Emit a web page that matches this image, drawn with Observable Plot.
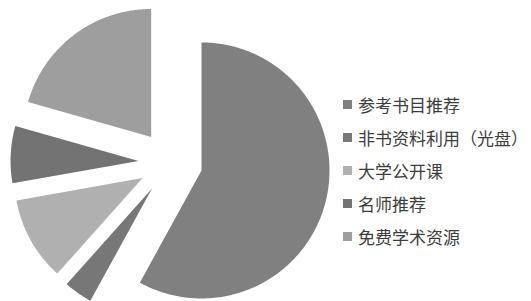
<!DOCTYPE html>
<html>
<head>
<meta charset="utf-8">
<script src="https://cdn.jsdelivr.net/npm/d3@7"></script>
<script src="https://cdn.jsdelivr.net/npm/@observablehq/plot@0.6"></script>
<style>
  html, body { margin: 0; padding: 0; background: #fff; }
  #wrap { position: relative; width: 531px; height: 301px; overflow: hidden; }
  #legend { position: absolute; left: 343px; top: 88px; font-family: "Noto Sans CJK SC", sans-serif; font-size: 17px; color: #3c3c3c; }
  .row { height: 33px; display: flex; align-items: center; white-space: nowrap; line-height: 1; }
  .sw { width: 9px; height: 9px; margin-right: 6px; flex: none; }
</style>
</head>
<body>
<div id="wrap"></div>
<script>
// Data
const categories = ["参考书目推荐", "非书资料利用（光盘）", "大学公开课", "名师推荐", "免费学术资源"];
const shares = [58.0, 3.6, 10.6, 7.2, 20.6];
const colors = ["#808080", "#777777", "#b0b0b0", "#737373", "#9e9e9e"];

// Layout (pixels)
const W = 531, H = 301;
const CX = 170, CY = 162, R = 128;
const explode = 0.25; // fraction of radius

const total = d3.sum(shares);
const points = [];
let acc = 0;
shares.forEach((v, i) => {
  const a0 = acc / total * 2 * Math.PI;
  acc += v;
  const a1 = acc / total * 2 * Math.PI;
  const mid = (a0 + a1) / 2;
  const ox = explode * Math.sin(mid), oy = explode * Math.cos(mid);
  points.push({name: categories[i], x: ox, y: oy});
  const n = Math.max(4, Math.ceil((a1 - a0) / 0.01));
  for (let k = 0; k <= n; k++) {
    const a = a0 + (a1 - a0) * k / n;
    points.push({name: categories[i], x: ox + Math.sin(a), y: oy + Math.cos(a)});
  }
  points.push({name: categories[i], x: ox, y: oy});
});

const chart = Plot.plot({
  width: W, height: H,
  margin: 0,
  style: {background: "#fff"},
  x: {domain: [-CX / R, (W - CX) / R], range: [0, W], axis: null},
  y: {domain: [-(H - CY) / R, CY / R], range: [H, 0], axis: null},
  color: {domain: categories, range: colors},
  marks: [
    Plot.line(points, {x: "x", y: "y", z: "name", fill: "name", stroke: "none", curve: "linear"})
  ]
});
const wrap = document.getElementById("wrap");
wrap.appendChild(chart);

const legend = document.createElement("div");
legend.id = "legend";
categories.forEach((c, i) => {
  const row = document.createElement("div");
  row.className = "row";
  const sw = document.createElement("span");
  sw.className = "sw";
  sw.style.background = colors[i];
  const t = document.createElement("span");
  t.textContent = c;
  row.appendChild(sw);
  row.appendChild(t);
  legend.appendChild(row);
});
wrap.appendChild(legend);
</script>
</body>
</html>
